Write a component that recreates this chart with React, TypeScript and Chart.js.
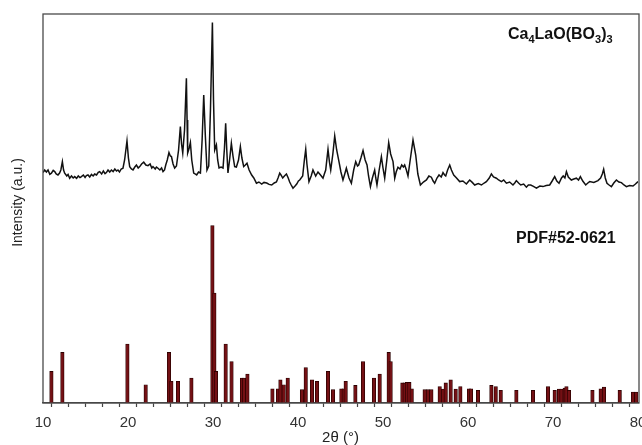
import React, { useEffect, useRef } from "react";
import { Chart, registerables } from "chart.js";

Chart.register(...registerables);

// Measured XRD pattern of Ca4LaO(BO3)3 (2θ in degrees, intensity in a.u.)
const patternTheta = [
  10.0, 10.2, 10.4, 10.59, 10.8, 10.99, 11.2, 11.38, 11.55, 11.76, 11.95, 12.1, 12.28, 12.42, 12.55, 12.8, 12.95,
  13.14, 13.35, 13.55, 13.73, 13.95, 14.15, 14.35, 14.52, 14.75, 14.95, 15.1, 15.29, 15.5, 15.7, 15.9, 16.08, 16.3,
  16.5, 16.67, 16.9, 17.1, 17.3, 17.46, 17.65, 17.85, 18.05, 18.25, 18.45, 18.65, 18.82, 19.0, 19.2, 19.41, 19.6,
  19.88, 20.05, 20.2, 20.4, 20.59, 20.8, 20.99, 21.2, 21.38, 21.6, 21.85, 22.1, 22.35, 22.6, 22.8, 22.94, 23.2,
  23.35, 23.53, 23.75, 23.95, 24.12, 24.3, 24.44, 24.62, 24.82, 24.98, 25.11, 25.3, 25.49, 25.7, 25.95, 26.16,
  26.3, 26.44, 26.65, 26.87, 26.95, 27.02, 27.2, 27.34, 27.5, 27.73, 27.9, 28.08, 28.3, 28.52, 28.72, 28.91, 29.1,
  29.29, 29.5, 29.7, 29.93, 30.06, 30.2, 30.4, 30.55, 30.71, 30.95, 31.18, 31.35, 31.49, 31.62, 31.76, 31.95, 32.16,
  32.35, 32.55, 32.75, 33.0, 33.22, 33.4, 33.61, 33.8, 34.0, 34.25, 34.55, 34.8, 35.11, 35.4, 35.73, 36.0, 36.32,
  36.6, 36.91, 37.2, 37.46, 37.65, 37.85, 38.0, 38.2, 38.4, 38.64, 38.85, 39.02, 39.2, 39.41, 39.65, 39.85, 40.05,
  40.2, 40.55, 40.75, 40.91, 41.05, 41.29, 41.55, 41.76, 42.08, 42.35, 42.65, 42.94, 43.1, 43.26, 43.53, 43.7, 43.85,
  44.1, 44.32, 44.55, 44.82, 45.05, 45.29, 45.5, 45.69, 46.0, 46.28, 46.55, 46.79, 47.0, 47.14, 47.4, 47.65, 47.9,
  48.12, 48.3, 48.52, 48.75, 49.02, 49.15, 49.29, 49.55, 49.81, 50.0, 50.2, 50.45, 50.67, 50.9, 51.18, 51.38, 51.55,
  51.76, 52.0, 52.2, 52.4, 52.55, 52.75, 52.94, 53.2, 53.53, 53.7, 53.85, 54.1, 54.4, 54.75, 55.11, 55.4, 55.69,
  55.9, 56.08, 56.35, 56.59, 56.85, 57.06, 57.25, 57.38, 57.6, 57.85, 58.05, 58.32, 58.65, 59.02, 59.4, 59.81, 60.0,
  60.2, 60.5, 60.79, 61.2, 61.58, 61.9, 62.16, 62.5, 62.75, 63.0, 63.34, 63.6, 63.93, 64.2, 64.52, 64.9, 65.29, 65.5,
  65.69, 65.95, 66.2, 66.55, 66.87, 67.1, 67.38, 67.7, 68.05, 68.45, 68.82, 69.2, 69.61, 69.9, 70.2, 70.45, 70.71,
  71.0, 71.2, 71.4, 71.58, 71.8, 72.16, 72.45, 72.75, 73.0, 73.22, 73.5, 73.85, 74.1, 74.32, 74.8, 75.29, 75.6, 75.8,
  75.96, 76.15, 76.35, 76.6, 76.87, 77.15, 77.46, 77.75, 78.05, 78.35, 78.64, 79.0, 79.41, 79.7, 80.0,
];
const patternIntensity = [
  137, 150, 140, 150, 128, 134, 148, 142, 130, 125, 135, 150, 192, 150, 134, 120, 128,
  109, 120, 110, 117, 108, 120, 112, 117, 125, 113, 122, 125, 115, 128, 120, 130, 125,
  138, 142, 130, 145, 132, 137, 150, 140, 150, 142, 155, 145, 150, 140, 155, 159, 200,
  295, 210, 167, 155, 150, 165, 175, 160, 167, 180, 189, 175, 172, 180, 160, 167, 155,
  165, 159, 150, 160, 142, 150, 175, 200, 237, 220, 217, 180, 160, 170, 250, 367,
  280, 235, 350, 609, 400, 235, 260, 287, 200, 135, 130, 125, 140, 135, 300, 525, 320,
  150, 170, 450, 887, 500, 250, 275, 200, 160, 165, 160, 260, 384, 250, 135, 200, 284,
  220, 167, 165, 200, 267, 210, 167, 175, 184, 150, 125, 110, 84, 90, 80, 88, 85,
  78, 75, 85, 90, 110, 134, 125, 110, 120, 130, 110, 90, 75, 59, 70, 80, 95,
  100, 120, 200, 254, 180, 92, 120, 150, 120, 140, 125, 109, 130, 150, 254, 190, 150,
  230, 320, 250, 192, 140, 100, 130, 159, 110, 84, 150, 192, 170, 175, 210, 247, 200,
  175, 120, 67, 110, 150, 110, 75, 150, 217, 160, 109, 200, 287, 230, 192, 109, 140,
  164, 155, 175, 165, 175, 150, 120, 200, 300, 260, 225, 130, 75, 90, 100, 120, 114,
  95, 84, 110, 125, 115, 137, 125, 120, 150, 175, 150, 125, 110, 92, 95, 80, 90,
  100, 88, 75, 82, 75, 85, 92, 110, 130, 115, 109, 100, 92, 100, 84, 90, 75, 85,
  97, 85, 75, 80, 64, 75, 75, 68, 59, 70, 67, 72, 75, 95, 117, 95, 84,
  110, 120, 110, 142, 115, 100, 105, 109, 100, 117, 95, 75, 85, 92, 88, 97, 110, 130,
  154, 110, 84, 75, 67, 85, 100, 90, 87, 75, 67, 72, 70, 80, 92,
];

// Reference pattern PDF#52-0621 (2θ in degrees, relative intensity %)
const pdfTheta = [
  10.99, 12.28, 19.93, 22.08, 24.82, 25.1, 25.88, 27.46, 29.93, 30.16, 30.35, 31.49, 32.18, 33.41, 33.65, 34.05,
  36.99, 37.65, 37.93, 38.32, 38.79, 40.47, 40.91, 41.65, 42.24, 43.53, 44.12, 45.1, 45.38, 45.61, 46.75, 47.65,
  48.94, 49.61, 50.67, 50.9, 52.28, 52.55, 52.82, 53.1, 53.38, 54.9, 55.29, 55.69, 56.67, 57.06, 57.38, 57.96,
  58.55, 59.1, 60.12, 60.35, 61.18, 62.75, 63.26, 63.85, 65.69, 67.65, 69.41, 70.2, 70.71, 70.99, 71.38, 71.58,
  71.88, 74.64, 75.61, 76.0, 77.85, 79.41, 79.8,
];
const pdfIntensity = [
  17.8, 28.5, 33.2, 10.3, 28.5, 12.2, 12.2, 14.1, 100, 62, 17.8, 33.2, 23.4, 14.1, 14.1, 16.3,
  8.0, 8.0, 13.1, 10.3, 14.1, 7.5, 20.0, 13.1, 12.2, 17.8, 7.5, 8.0, 8.0, 12.2, 9.9, 23.4,
  14.1, 16.3, 28.5, 23.4, 11.3, 11.3, 11.6, 11.6, 8.0, 7.5, 7.5, 7.5, 9.3, 7.9, 11.3, 13.1,
  7.9, 9.3, 8.0, 8.0, 7.1, 9.9, 9.3, 7.1, 7.1, 7.1, 9.3, 7.1, 7.9, 7.9, 8.4, 9.3,
  7.1, 7.1, 8.0, 9.0, 7.1, 6.2, 6.2,
];

const xTickLabels = ["10", "20", "30", "40", "50", "60", "70", "80"];
const sampleLabel = ["Ca", "4", "LaO(BO", "3", ")", "3"];
const pdfLabel = "PDF#52-0621";
const yTitle = "Intensity (a.u.)";
const xTitle = "2θ (°)";

const FONT = "'Liberation Sans', Arial, Helvetica, sans-serif";

const framePlugin = {
  id: "frameAndLabels",
  afterDraw(chart: any) {
    const { ctx, chartArea } = chart;
    const { left, top, right, bottom } = chartArea;
    ctx.save();
    ctx.strokeStyle = "#4a4a4a";
    ctx.lineWidth = 1.3;
    ctx.strokeRect(left, top, right - left + 1, bottom - top);

    // y-axis title
    ctx.fillStyle = "#222";
    ctx.font = `14px ${FONT}`;
    ctx.textAlign = "center";
    ctx.textBaseline = "middle";
    ctx.translate(18, (top + bottom) / 2 - 6);
    ctx.rotate(-Math.PI / 2);
    ctx.fillText(yTitle, 0, 0);
    ctx.restore();

    // sample label with subscripts
    ctx.save();
    ctx.fillStyle = "#111";
    ctx.textBaseline = "alphabetic";
    ctx.textAlign = "left";
    let x = 508;
    const base = 39;
    sampleLabel.forEach((part, i) => {
      const sub = i % 2 === 1;
      ctx.font = sub ? `bold 11px ${FONT}` : `bold 16px ${FONT}`;
      ctx.fillText(part, x, sub ? base + 4 : base);
      x += ctx.measureText(part).width;
    });
    ctx.font = `bold 16px ${FONT}`;
    ctx.fillText(pdfLabel, 516, 243);
    ctx.restore();
  },
};

export default function App() {
  const ref = useRef<HTMLCanvasElement | null>(null);
  useEffect(() => {
    document.body.style.margin = "0";
    if (!ref.current) return;
    const chart = new Chart(ref.current, {
      type: "bar",
      data: {
        datasets: [
          {
            type: "line",
            data: patternTheta.map((t, i) => ({ x: t, y: patternIntensity[i] })),
            yAxisID: "yP",
            borderColor: "#111",
            borderWidth: 1.5,
            pointRadius: 0,
            tension: 0,
            fill: false,
          } as any,
          {
            type: "bar",
            data: pdfTheta.map((t, i) => ({ x: t, y: pdfIntensity[i] })),
            yAxisID: "yB",
            backgroundColor: "#741014",
            borderColor: "#2a0000",
            borderWidth: 0.8,
            barThickness: 3.5,
            grouped: false,
          } as any,
        ],
      },
      options: {
        responsive: false,
        animation: false,
        devicePixelRatio: 1,
        layout: { padding: { left: 43, top: 14, right: 4, bottom: 0 } },
        plugins: { legend: { display: false }, tooltip: { enabled: false } },
        scales: {
          x: {
            type: "linear",
            min: 10,
            max: 80,
            offset: false,
            afterFit: (s: any) => {
              s.height = 42;
              s.paddingLeft = 0;
              s.paddingRight = 0;
            },
            afterBuildTicks: (s: any) => {
              const t = [];
              for (let v = 10; v <= 80; v += 2) t.push({ value: v });
              s.ticks = t;
            },
            ticks: {
              autoSkip: false,
              maxRotation: 0,
              padding: 7,
              color: "#333",
              font: { family: FONT, size: 15 },
              callback: (v: any) => {
                const s = String(v);
                return xTickLabels.includes(s) ? s : "";
              },
            },
            grid: { drawOnChartArea: false, drawTicks: true, tickLength: 4, color: "#444", tickWidth: 1.2 },
            border: { display: true, color: "#444", width: 1.3 },
            title: {
              display: true,
              text: xTitle,
              color: "#222",
              font: { family: FONT, size: 15, lineHeight: 1 },
              padding: { top: 0, bottom: 0 },
            },
          },
          yP: { type: "linear", display: false, min: -1015, max: 930 },
          yB: { type: "linear", display: false, min: 0, max: 219.2 },
        },
      },
      plugins: [framePlugin],
    });
    return () => chart.destroy();
  }, []);
  return (
    <div style={{ width: 642, height: 445, background: "#fff" }}>
      <canvas ref={ref} width={642} height={445} style={{ display: "block" }} />
    </div>
  );
}
